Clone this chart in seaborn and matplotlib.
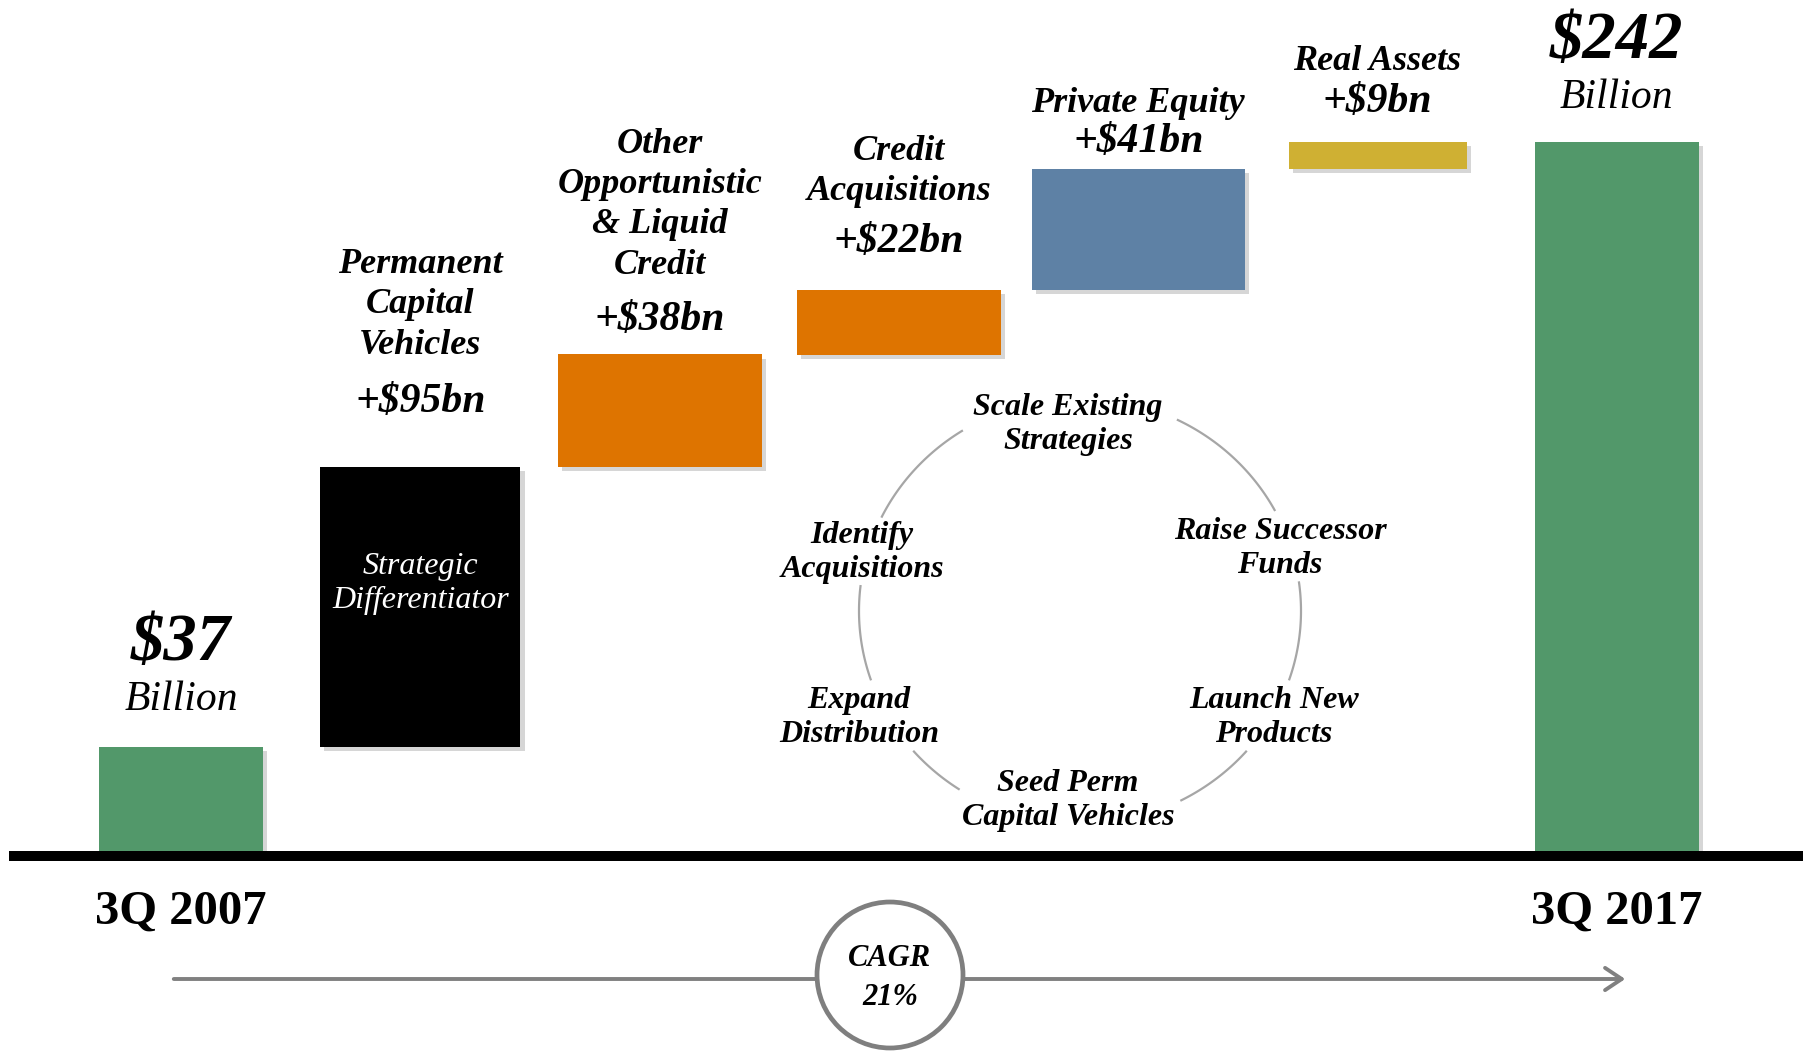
import numpy as np
import pandas as pd
import matplotlib
matplotlib.use("Agg")
import matplotlib.pyplot as plt
import seaborn as sns
from matplotlib import patheffects as pe
from matplotlib.patches import Circle, FancyArrowPatch

# ---------------- data ----------------
categories = ["3Q 2007", "Permanent Capital Vehicles", "Other Opportunistic & Liquid Credit",
              "Credit Acquisitions", "Private Equity", "Real Assets", "3Q 2017"]
values = [37, 95, 38, 22, 41, 9, 242]          # $ billion
kinds = ["total", "delta", "delta", "delta", "delta", "delta", "total"]
bar_colors = ["#52986A", "#000000", "#DE7400", "#DE7400", "#5E81A5", "#CFB033", "#52986A"]
name_lines = [None,
              ["Permanent", "Capital", "Vehicles"],
              ["Other", "Opportunistic", "& Liquid", "Credit"],
              ["Credit", "Acquisitions"],
              ["Private Equity"],
              ["Real Assets"],
              None]
value_labels = ["$37", "+$95bn", "+$38bn", "+$22bn", "+$41bn", "+$9bn", "$242"]
unit_label = "Billion"
period_labels = ["3Q 2007", "3Q 2017"]
inner_label = ["Strategic", "Differentiator"]
cycle_steps = [["Scale Existing", "Strategies"],
               ["Raise Successor", "Funds"],
               ["Launch New", "Products"],
               ["Seed Perm", "Capital Vehicles"],
               ["Expand", "Distribution"],
               ["Identify", "Acquisitions"]]
cagr_label = ["CAGR", "21%"]

# ---------------- style ----------------
sns.set_theme(style="white")
FONT = ["Liberation Serif", "DejaVu Serif"]
plt.rcParams["font.family"] = FONT

W, H = 1810, 1053
fig = plt.figure(figsize=(W / 100, H / 100), dpi=100)
fig.patch.set_facecolor("white")

BASE = 856          # baseline pixel row (from top)
K = 2.95            # pixels per $bn
ax = fig.add_axes([9 / W, (H - BASE) / H, 1794 / W, BASE / H])

def yv(ypx):
    return (BASE - ypx) / K

# waterfall starts computed from the values
starts, run = [], 0
for v, k in zip(values, kinds):
    if k == "total":
        starts.append(0)
        run = v
    else:
        starts.append(run)
        run += v

df = pd.DataFrame({"category": categories, "value": values})
sns.barplot(data=df, x="category", y="value", hue="category", palette=bar_colors,
            order=categories, hue_order=categories, width=0.79, saturation=1,
            errorbar=None, legend=False, ax=ax)

# per-bar widths (layout only, in category units)
bar_widths = [0.685, 0.836, 0.852, 0.852, 0.89, 0.744, 0.685]
shadow = [pe.SimplePatchShadow(offset=(3, -3), shadow_rgbFace="#000000", alpha=0.16), pe.Normal()]
for bar in ax.patches:
    c = bar.get_x() + bar.get_width() / 2
    i = int(round(c))
    bar.set_y(starts[i])
    bar.set_width(bar_widths[i])
    bar.set_x(c - bar_widths[i] / 2)
    bar.set_linewidth(0)
    bar.set_path_effects(shadow)

ax.set_xlim(-0.719, 6.778)
ax.set_ylim(0, BASE / K)
ax.set_xlabel("")
ax.set_ylabel("")
ax.set_yticks([])
ax.set_xticks([0, 6])
ax.set_xticklabels(period_labels, fontsize=35, fontweight="bold", color="black")
ax.tick_params(axis="x", length=0, pad=24)
for s in ["left", "right", "top"]:
    ax.spines[s].set_visible(False)
ax.spines["bottom"].set_linewidth(7.2)
ax.spines["bottom"].set_color("black")
ax.spines["bottom"].set_capstyle("butt")
ax.patch.set_visible(False)

BI = dict(fontstyle="italic", fontweight="bold", ha="center", va="baseline",
          color="black", parse_math=False)

# totals
ax.text(0, yv(660), value_labels[0], fontsize=48, **BI)
ax.text(0, yv(710), unit_label, fontsize=30, fontstyle="italic", ha="center",
        va="baseline", color="black", parse_math=False)
ax.text(6, yv(58), value_labels[6], fontsize=48, **BI)
ax.text(6, yv(108), unit_label, fontsize=30, fontstyle="italic", ha="center",
        va="baseline", color="black", parse_math=False)

# increments: name lines + value line (baselines in px)
name_base = {1: [273, 313, 354], 2: [153, 193, 233, 274], 3: [160, 200], 4: [112], 5: [70]}
val_base = {1: 412, 2: 330, 3: 252, 4: 152, 5: 112}
for i in range(1, 6):
    for line, yb in zip(name_lines[i], name_base[i]):
        ax.text(i, yv(yb), line, fontsize=26, **BI)
    ax.text(i, yv(val_base[i]), value_labels[i], fontsize=30, **BI)

# text inside black bar
for line, yb in zip(inner_label, [574, 608]):
    ax.text(1, yv(yb), line, fontsize=23, fontstyle="italic", ha="center",
            va="baseline", color="white", parse_math=False)

# ---------------- overlay (pixel coords) ----------------
ov = fig.add_axes([0, 0, 1, 1])
ov.set_xlim(0, W)
ov.set_ylim(H, 0)
ov.axis("off")

# cycle ring (arcs with gaps for text)
cx, cy, rx, ry = 1080, 611, 221, 213
arc_ranges = [(28, 64), (122, 154), (173, 199), (221, 237), (297, 319), (341, 368)]
for a, b in arc_ranges:
    t = np.radians(np.linspace(a, b, 80))
    ov.plot(cx + rx * np.cos(t), cy - ry * np.sin(t), color="#A6A6A6", lw=1.6,
            solid_capstyle="butt")

step_pos = [(1068, 415), (1280, 539), (1274, 708), (1068, 791), (859, 708), (862, 543)]
for lines, (x, yb) in zip(cycle_steps, step_pos):
    for j, line in enumerate(lines):
        ov.text(x, yb + 34 * j, line, fontsize=23, **BI)

# CAGR arrow and circle
arr = FancyArrowPatch((171, 979), (1628, 979), arrowstyle="->,head_length=0.75,head_width=0.5",
                      mutation_scale=16, color="#808080", lw=2.8, zorder=1)
ov.add_patch(arr)
ov.add_patch(Circle((890, 975), 73, facecolor="white", edgecolor="#7F7F7F", lw=3.4, zorder=3))
ov.text(890, 966, cagr_label[0], fontsize=22, zorder=4, **BI)
ov.text(890, 1005, cagr_label[1], fontsize=22, zorder=4, **BI)

fig.savefig("out.png", dpi=100, facecolor="white")
